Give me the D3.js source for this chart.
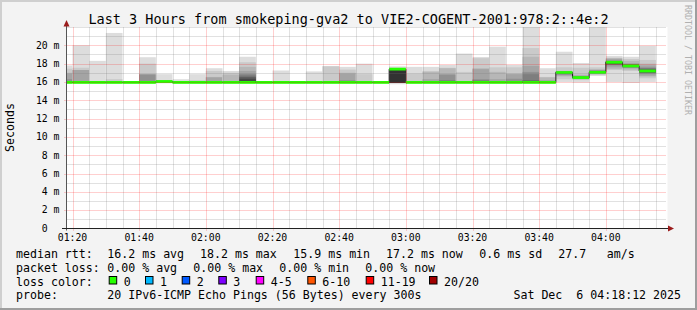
<!DOCTYPE html>
<html>
<head>
<meta charset="utf-8">
<script src="https://cdn.jsdelivr.net/npm/d3@7"></script>
<style>
  body { margin: 0; background: #f0f0f0; }
  text { font-family: "DejaVu Sans Mono", monospace; white-space: pre; }
</style>
</head>
<body>
<svg id="chart"></svg>
<script>
var width = 697, height = 310;

var titleText = "Last 3 Hours from smokeping-gva2 to VIE2-COGENT-2001:978:2::4e:2";
var endTime = new Date(2025, 11, 6, 4, 18, 12);
var firstBar = new Date(2025, 11, 6, 1, 15, 0);
var stepMinutes = 5;

// median rtt per 5 minute step (ms)
var medians = [
  15.95, 15.95, 15.95, 15.95, 15.95, 15.95, 16.05, 15.95, 15.95, 15.95,
  15.95, 15.95, 15.95, 15.95, 15.95, 15.95, 15.95, 15.95, 15.95, 15.95,
  17.4, 15.95, 15.95, 15.95, 15.95, 15.95, 15.95, 15.95, 15.95, 15.95,
  17.03, 16.48, 17.05, 18.15, 17.75, 17.2
];

// the 20 pings of each step, sorted (ms)
var pings = [
  [15.9,15.95,15.95,15.95,15.95,15.95,15.95,15.95,15.95,15.95,15.95,15.95,16.0,16.0,16.1,16.3,16.9,17.0,17.45,17.8],
  [15.9,15.95,15.95,15.95,15.95,15.95,15.95,15.95,15.95,15.95,15.95,15.95,15.95,15.95,16.0,16.05,17.3,17.3,17.55,20.0],
  [15.9,15.95,15.95,15.95,15.95,15.95,15.95,15.95,15.95,15.95,15.95,15.95,15.95,15.95,15.95,15.95,15.95,15.95,16.1,18.3],
  [15.9,15.95,15.95,15.95,15.95,15.95,15.95,15.95,15.95,15.95,15.95,15.95,15.95,15.95,15.95,15.95,15.95,15.95,16.3,21.35],
  [15.9,15.95,15.95,15.95,15.95,15.95,15.95,15.95,15.95,15.95,15.95,15.95,15.95,15.95,15.95,15.95,15.95,15.95,15.95,16.0],
  [15.9,15.95,15.95,15.95,15.95,15.95,15.95,15.95,15.95,15.95,15.95,15.95,15.95,15.95,16.1,16.8,16.85,16.85,18.0,18.7],
  [15.85,15.95,15.95,15.95,16.0,16.0,16.0,16.0,16.0,16.0,16.05,16.05,16.05,16.05,16.05,16.05,16.05,16.05,16.2,16.85],
  [15.9,15.95,15.95,15.95,15.95,15.95,15.95,15.95,15.95,15.95,15.95,15.95,15.95,15.95,15.95,15.95,15.95,15.95,16.1,16.3],
  [15.9,15.95,15.95,15.95,15.95,15.95,15.95,15.95,15.95,15.95,15.95,15.95,15.95,15.95,15.95,15.95,15.95,15.95,16.2,16.85],
  [15.9,15.95,15.95,15.95,15.95,15.95,15.95,15.95,15.95,15.95,15.95,15.95,15.95,15.95,15.95,15.95,16.5,16.55,17.2,17.5],
  [15.9,15.95,15.95,15.95,15.95,15.95,15.95,15.95,15.95,15.95,15.95,15.95,15.95,15.95,15.95,15.95,16.1,16.8,17.0,17.2],
  [15.9,15.95,15.95,15.95,15.95,15.95,15.95,15.95,15.95,15.95,16.1,16.3,16.5,16.6,16.8,16.9,17.2,17.65,18.15,18.75],
  [15.9,15.95,15.95,15.95,15.95,15.95,15.95,15.95,15.95,15.95,15.95,15.95,15.95,15.95,15.95,15.95,15.95,15.95,15.95,16.0],
  [15.9,15.95,15.95,15.95,15.95,15.95,15.95,15.95,15.95,15.95,15.95,15.95,15.95,15.95,15.95,15.95,15.95,15.95,16.1,17.25],
  [15.9,15.95,15.95,15.95,15.95,15.95,15.95,15.95,15.95,15.95,15.95,15.95,15.95,15.95,15.95,15.95,15.95,15.95,15.95,16.0],
  [15.9,15.95,15.95,15.95,15.95,15.95,15.95,15.95,15.95,15.95,15.95,15.95,15.95,15.95,15.95,15.95,15.95,15.95,16.1,17.15],
  [15.9,15.95,15.95,15.95,15.95,15.95,15.95,15.95,15.95,15.95,15.95,15.95,15.95,15.95,15.95,15.95,15.95,16.1,17.7,17.75],
  [15.9,15.95,15.95,15.95,15.95,15.95,15.95,15.95,15.95,15.95,15.95,15.95,15.95,15.95,15.95,16.2,16.9,17.0,17.35,17.65],
  [15.9,15.95,15.95,15.95,15.95,15.95,15.95,15.95,15.95,15.95,15.95,15.95,15.95,15.95,15.95,15.95,15.95,16.1,16.85,18.0],
  [15.9,15.95,15.95,15.95,15.95,15.95,15.95,15.95,15.95,15.95,15.95,15.95,15.95,15.95,15.95,15.95,15.95,15.95,15.95,16.0],
  [15.75,15.9,15.9,15.9,15.9,15.9,15.9,15.9,15.9,15.9,17.4,17.4,17.4,17.4,17.4,17.4,17.4,17.4,17.4,17.7],
  [15.9,15.95,15.95,15.95,15.95,15.95,15.95,15.95,15.95,15.95,15.95,15.95,15.95,15.95,15.95,15.95,15.95,16.1,16.9,17.65],
  [15.9,15.95,15.95,15.95,15.95,15.95,15.95,15.95,15.95,15.95,15.95,15.95,15.95,15.95,15.95,15.95,16.3,17.1,17.2,17.65],
  [15.9,15.95,15.95,15.95,15.95,15.95,15.95,15.95,15.95,15.95,15.95,15.95,15.95,15.95,16.2,16.8,16.85,17.5,17.55,17.85],
  [15.9,15.95,15.95,15.95,15.95,15.95,15.95,15.95,15.95,15.95,15.95,15.95,15.95,15.95,15.95,15.95,15.95,16.1,17.1,19.1],
  [15.9,15.95,15.95,15.95,15.95,15.95,15.95,15.95,15.95,15.95,15.95,15.95,15.95,15.95,16.2,16.3,17.4,17.5,18.6,18.72],
  [15.9,15.95,15.95,15.95,15.95,15.95,15.95,15.95,15.95,15.95,15.95,15.95,15.95,15.95,15.95,15.95,16.3,17.1,17.6,19.85],
  [15.9,15.95,15.95,15.95,15.95,15.95,15.95,15.95,15.95,15.95,15.95,15.95,15.95,15.95,15.95,16.35,16.85,16.9,17.6,17.85],
  [15.9,15.95,15.95,15.95,15.95,15.95,15.95,15.95,15.95,15.95,15.95,15.95,16.1,16.2,16.85,17.1,17.75,18.75,19.7,23.0],
  [15.9,15.95,15.95,15.95,15.95,15.95,15.95,15.95,15.95,15.95,15.95,15.95,15.95,15.95,15.95,15.95,16.2,16.5,16.55,17.5],
  [16.0,16.3,16.6,16.7,16.8,16.85,16.9,16.9,16.95,16.95,17.0,17.0,17.05,17.05,17.1,17.1,17.15,17.2,17.6,19.3],
  [15.95,16.2,16.3,16.35,16.4,16.4,16.45,16.45,16.45,16.5,16.5,16.5,16.55,16.55,16.6,16.65,16.7,16.8,17.55,18.07],
  [16.65,16.75,16.85,16.9,16.95,16.95,17.0,17.0,17.0,17.05,17.05,17.1,17.1,17.15,17.2,17.25,17.3,17.4,17.6,23.0],
  [16.0,17.3,17.4,17.6,17.8,17.85,17.9,17.95,18.0,18.1,18.15,18.2,18.2,18.25,18.3,18.3,18.5,18.6,18.65,18.85],
  [15.9,17.2,17.35,17.5,17.55,17.6,17.65,17.7,17.7,17.75,17.75,17.8,17.85,17.9,17.95,18.0,18.0,18.3,18.5,18.75],
  [16.0,16.4,16.6,16.7,16.9,16.95,17.0,17.05,17.1,17.2,17.2,17.3,17.35,17.45,17.5,17.6,17.8,18.0,18.4,19.95]
];

var smokeColors = ["#dddddd", "#cacaca", "#b7b7b7", "#a4a4a4", "#919191",
                   "#7e7e7e", "#6b6b6b", "#585858", "#454545", "#323232"];

var lossNames = ["0", "1", "2", "3", "4-5", "6-10", "11-19", "20/20"];
var lossColors = ["#26ff00", "#00b8ff", "#0059ff", "#7e00ff", "#ff00ff", "#ff5500", "#ff0000", "#a10000"];

var medianStats = ["16.2 ms avg", "18.2 ms max", "15.9 ms min", "17.2 ms now", "0.6 ms sd", "27.7", "am/s"];
var lossStats = ["0.00 % avg", "0.00 % max", "0.00 % min", "0.00 % now"];
var probeText = "20 IPv6-ICMP Echo Pings (56 Bytes) every 300s";
var dateText = "Sat Dec  6 04:18:12 2025";

var X0 = 66.5, X1 = 666.5, Y0 = 228.5, Y1 = 27;

var x = d3.scaleTime()
    .domain([d3.timeHour.offset(endTime, -3), endTime])
    .range([X0, X1]);

var y = d3.scaleLinear()
    .domain([0, 22])
    .range([Y0, Y1]);

var svg = d3.select("#chart")
    .attr("width", width)
    .attr("height", height);

// background and 3d frame
svg.append("rect").attr("width", width).attr("height", height).attr("fill", "#f3f3f3");
svg.append("rect").attr("x", 0).attr("y", 0).attr("width", width).attr("height", 2).attr("fill", "#cfcfcf");
svg.append("rect").attr("x", 0).attr("y", 0).attr("width", 2).attr("height", height).attr("fill", "#cfcfcf");
svg.append("rect").attr("x", 0).attr("y", height - 2).attr("width", width).attr("height", 2).attr("fill", "#9e9e9e");
svg.append("rect").attr("x", width - 2).attr("y", 0).attr("width", 2).attr("height", height).attr("fill", "#9e9e9e");

svg.append("defs").append("clipPath").attr("id", "plot")
  .append("rect")
    .attr("x", X0).attr("y", Y1)
    .attr("width", X1 - X0 + 1).attr("height", Y0 - Y1);

// canvas
svg.append("rect")
    .attr("x", X0).attr("y", Y1)
    .attr("width", X1 - X0 + 1).attr("height", Y0 - Y1)
    .attr("fill", "#ffffff");

var bars = pings.map(function(p, i) {
  var t0 = d3.timeMinute.offset(firstBar, i * stepMinutes);
  return {t0: t0, t1: d3.timeMinute.offset(t0, stepMinutes), pings: p, median: medians[i]};
});

var plot = svg.append("g").attr("clip-path", "url(#plot)");

// smoke: one band per ping pair, outer to inner
bars.forEach(function(b) {
  var half = b.pings.length / 2;
  for (var i = 0; i < half; i++) {
    var lo = b.pings[i], hi = b.pings[b.pings.length - 1 - i];
    if (hi - lo < 0.001) continue;
    plot.append("rect")
      .attr("x", x(b.t0))
      .attr("width", x(b.t1) - x(b.t0))
      .attr("y", y(hi))
      .attr("height", y(lo) - y(hi))
      .attr("fill", smokeColors[i]);
  }
});

// grid
var minorX = d3.timeMinute.every(5).range(x.domain()[0], x.domain()[1]);
var majorX = d3.timeMinute.every(20).range(x.domain()[0], x.domain()[1]);
var minorY = d3.range(1, 23, 1);
var majorY = d3.range(2, 22, 2);

var grid = svg.append("g").attr("stroke-dasharray", "1,1").attr("stroke-width", 1);
var minorColor = "rgba(120,120,120,0.45)";
var majorColor = "rgba(255,0,0,0.38)";

grid.selectAll("line.minx")
  .data(minorX.filter(function(t) { return t.getMinutes() % 20 != 0; })).enter()
  .append("line")
    .attr("x1", function(d) { return Math.round(x(d)) + 0.5; })
    .attr("x2", function(d) { return Math.round(x(d)) + 0.5; })
    .attr("y1", Y0).attr("y2", Y1)
    .attr("stroke", minorColor);

grid.selectAll("line.miny")
  .data(minorY.filter(function(v) { return v % 2 != 0 || v == 22; })).enter()
  .append("line")
    .attr("x1", X0).attr("x2", X1)
    .attr("y1", function(d) { return Math.round(y(d)) + 0.5; })
    .attr("y2", function(d) { return Math.round(y(d)) + 0.5; })
    .attr("stroke", minorColor);

grid.selectAll("line.majx")
  .data(majorX).enter()
  .append("line")
    .attr("x1", function(d) { return Math.round(x(d)) + 0.5; })
    .attr("x2", function(d) { return Math.round(x(d)) + 0.5; })
    .attr("y1", Y0 + 2).attr("y2", Y1)
    .attr("stroke", majorColor);

grid.selectAll("line.majy")
  .data(majorY).enter()
  .append("line")
    .attr("x1", X0 - 2).attr("x2", X1)
    .attr("y1", function(d) { return Math.round(y(d)) + 0.5; })
    .attr("y2", function(d) { return Math.round(y(d)) + 0.5; })
    .attr("stroke", majorColor);

// median: dark step line, then loss coloured band (all steps had 0 loss)
var stepPoints = bars.map(function(b) { return [b.t0, b.median]; });
stepPoints.push([bars[bars.length - 1].t1, bars[bars.length - 1].median]);

plot.append("path")
    .attr("d", d3.line()
      .x(function(d) { return x(d[0]); })
      .y(function(d) { return y(d[1]); })
      .curve(d3.curveStepAfter)(stepPoints))
    .attr("fill", "none")
    .attr("stroke", "#202020")
    .attr("stroke-width", 1);

plot.selectAll("rect.median")
  .data(bars).enter()
  .append("rect")
    .attr("x", function(d) { return x(d.t0); })
    .attr("width", function(d) { return x(d.t1) - x(d.t0); })
    .attr("y", function(d) { return y(d.median) - 1.4; })
    .attr("height", 2.8)
    .attr("fill", lossColors[0]);

// axes
svg.append("line")
    .attr("x1", X0).attr("x2", X0).attr("y1", Y0 + 2).attr("y2", 22)
    .attr("stroke", "#555").attr("stroke-width", 1);
svg.append("line")
    .attr("x1", 62).attr("x2", 669).attr("y1", Y0).attr("y2", Y0)
    .attr("stroke", "#222").attr("stroke-width", 1);
svg.append("path").attr("d", "M63.5,26.5L69.5,26.5L66.5,20Z").attr("fill", "#9b1c1c");
svg.append("path").attr("d", "M668,225.5L668,231.5L674,228.5Z").attr("fill", "#9b1c1c");

svg.selectAll("text.ytick")
  .data(d3.range(0, 22, 2)).enter()
  .append("text")
    .attr("x", 59.5)
    .attr("y", function(d) { return y(d) + 3.3; })
    .attr("text-anchor", "end")
    .style("font-size", "9.8px")
    .attr("fill", "#000")
    .text(function(d) { return d == 0 ? "0  " : d + " m"; });

svg.selectAll("text.xtick")
  .data(majorX).enter()
  .append("text")
    .attr("x", function(d) { return x(d); })
    .attr("y", 241)
    .attr("text-anchor", "middle")
    .style("font-size", "9.8px")
    .text(d3.timeFormat("%H:%M"));

// title, unit, watermark
svg.append("text")
    .attr("x", 348.5).attr("y", 23.5)
    .attr("text-anchor", "middle")
    .style("font-size", "13.5px")
    .text(titleText);

svg.append("text")
    .attr("transform", "translate(13.5,127.5) rotate(-90)")
    .attr("text-anchor", "middle")
    .style("font-size", "11.6px")
    .text("Seconds");

svg.append("text")
    .attr("transform", "translate(685,5) rotate(90)")
    .style("font-size", "8.3px")
    .attr("fill", "#b0b0b0")
    .text("RRDTOOL / TOBI OETIKER");

// legend
var legend = svg.append("g").style("font-size", "11.6px");
var rows = [258, 271.8, 285.6, 299.4];

legend.append("text").attr("x", 16).attr("y", rows[0]).text("median rtt:");
var medianX = [107.3, 200, 293.3, 386, 479.3, 558.3, 606.7];
medianStats.forEach(function(s, i) {
  legend.append("text").attr("x", medianX[i]).attr("y", rows[0]).text(s);
});

legend.append("text").attr("x", 16).attr("y", rows[1]).text("packet loss:");
var lossX = [107.3, 193.3, 279.3, 365.3];
lossStats.forEach(function(s, i) {
  legend.append("text").attr("x", lossX[i]).attr("y", rows[1]).text(s);
});

legend.append("text").attr("x", 16).attr("y", rows[2]).text("loss color:");
var boxX = [108.7, 145, 181.7, 218.3, 255.7, 307.3, 365.7, 429];
lossNames.forEach(function(n, i) {
  legend.append("rect")
    .attr("x", boxX[i] + 0.5).attr("y", 276.5)
    .attr("width", 7.5).attr("height", 7.5)
    .attr("fill", lossColors[i])
    .attr("stroke", "#000").attr("stroke-width", 1);
  legend.append("text").attr("x", boxX[i] + 15).attr("y", rows[2]).text(n);
});

legend.append("text").attr("x", 16).attr("y", rows[3]).text("probe:");
legend.append("text").attr("x", 107.3).attr("y", rows[3]).text(probeText);
legend.append("text").attr("x", 681).attr("y", rows[3]).attr("text-anchor", "end").text(dateText);
</script>
</body>
</html>
